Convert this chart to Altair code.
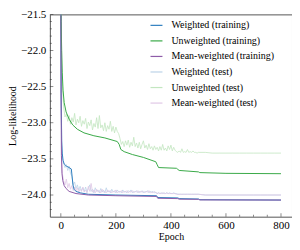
import altair as alt
import pandas as pd

FONT = "Liberation Serif"

SERIES = ["Weighted (training)", "Unweighted (training)", "Mean-weighted (training)",
          "Weighted (test)", "Unweighted (test)", "Mean-weighted (test)"]
COLORS = ["#2e7ebf", "#3aaa48", "#8e5ca8", "#bcd3e8", "#c3e6c0", "#e0c8e6"]

# ---- training curves (key points) ----
W_TR_EPOCH = [0, 1, 3, 5, 8, 12, 20, 30, 38, 41, 44, 48, 55, 70, 100, 200, 348, 352, 425, 430, 500, 505, 800]
W_TR_VAL = [-21.3, -22.6, -23.25, -23.42, -23.52, -23.57, -23.60, -23.62, -23.64, -23.75, -23.86, -23.92,
            -23.95, -23.97, -23.99, -24.00, -24.01, -24.035, -24.04, -24.05, -24.055, -24.065, -24.07]

U_TR_EPOCH = [0, 1, 3, 5, 8, 12, 19, 30, 43, 60, 84, 120, 160, 205, 212, 218, 230, 260, 300, 345, 350, 355,
              420, 425, 430, 500, 505, 600, 800]
U_TR_VAL = [-21.2, -21.6, -22.0, -22.3, -22.55, -22.72, -22.85, -22.95, -23.03, -23.09, -23.14, -23.18,
            -23.21, -23.26, -23.30, -23.37, -23.40, -23.44, -23.48, -23.54, -23.58, -23.62,
            -23.63, -23.645, -23.66, -23.68, -23.69, -23.70, -23.705]

M_TR_EPOCH = [0, 1, 2, 4, 7, 12, 19, 30, 55, 100, 200, 348, 352, 425, 430, 500, 505, 800]
M_TR_VAL = [-21.2, -22.8, -23.45, -23.7, -23.8, -23.87, -23.91, -23.95, -23.98, -24.0, -24.01, -24.02,
            -24.045, -24.05, -24.058, -24.06, -24.068, -24.07]

# ---- test curves ----
TEST_EPOCH = [0, 3, 6] + list(range(10, 501, 5)) + list(range(525, 801, 25))

U_TE_VAL = [-21.4, -22.15, -22.5,
            -22.78, -22.92, -22.88, -22.98, -22.90, -23.02, -22.93, -22.99, -22.87, -23.03,
            -22.95, -23.00, -22.91, -23.05, -22.97, -23.02, -22.94, -23.08, -22.99, -23.04,
            -22.96, -23.10, -23.01, -23.06, -22.93, -23.08, -22.90, -23.07, -23.03, -23.11,
            -23.00, -23.12, -23.04, -23.09, -22.98, -23.12, -23.05, -23.14, -23.06, -23.12,
            -23.15, -23.22, -23.30, -23.26, -23.33, -23.25, -23.31, -23.24, -23.34, -23.27,
            -23.32, -23.20, -23.33, -23.28, -23.35, -23.27, -23.36, -23.30, -23.25, -23.35,
            -23.31, -23.37, -23.29, -23.36, -23.33, -23.38, -23.32, -23.37, -23.34, -23.39,
            -23.33, -23.38, -23.30, -23.38, -23.35, -23.39, -23.32, -23.37, -23.31, -23.39,
            -23.34, -23.38, -23.40, -23.41, -23.39, -23.41, -23.36, -23.41, -23.40, -23.41,
            -23.37, -23.41, -23.40, -23.41, -23.39, -23.41, -23.41, -23.42, -23.41,
            -23.41, -23.42, -23.42, -23.42, -23.42, -23.42, -23.42, -23.42, -23.42, -23.42, -23.42, -23.42]

W_TE_VAL = [-21.4, -23.3, -23.5,
            -23.56, -23.62, -23.58, -23.66, -23.60, -23.70, -23.74, -23.86, -23.82, -23.91,
            -23.86, -23.93, -23.88, -23.94, -23.90, -23.95, -23.89, -23.96, -23.91, -23.86,
            -23.95, -23.92, -23.97, -23.90, -23.95, -23.93, -23.97, -23.91, -23.96, -23.93,
            -23.97, -23.90, -23.96, -23.94, -23.97, -23.92, -23.96, -23.94, -23.97, -23.93,
            -23.96, -23.95, -23.97, -23.93, -23.96, -23.95, -23.97, -23.94, -23.96, -23.93,
            -23.97, -23.95, -23.96, -23.94, -23.97, -23.95, -23.96, -23.94, -23.97, -23.95,
            -23.96, -23.94, -23.97, -23.95, -23.96, -23.95, -23.97, -23.96, -23.98, -23.97,
            -23.98, -23.97, -23.98, -23.97, -23.98, -23.97, -23.98, -23.97, -23.98, -23.98,
            -23.97, -23.98, -23.98, -23.99, -23.99, -23.99, -23.99, -23.99, -23.99, -23.99,
            -23.99, -23.99, -23.99, -23.99, -23.99, -23.99, -23.99, -23.99, -23.99,
            -24.0, -24.0, -24.0, -24.0, -24.0, -24.0, -24.0, -24.0, -24.0, -24.0, -24.0, -24.0]

M_TE_VAL = [-21.4, -23.45, -23.72,
            -23.80, -23.86, -23.78, -23.90, -23.84, -23.92, -23.87, -23.94, -23.89, -23.95,
            -23.90, -23.96, -23.92, -23.95, -23.89, -23.96, -23.93, -23.97, -23.88, -23.95,
            -23.84, -23.96, -23.93, -23.97, -23.92, -23.96, -23.94, -23.97, -23.92, -23.96,
            -23.95, -23.97, -23.93, -23.96, -23.94, -23.97, -23.95, -23.96, -23.93, -23.97,
            -23.95, -23.96, -23.94, -23.97, -23.95, -23.96, -23.94, -23.97, -23.95, -23.96,
            -23.94, -23.97, -23.95, -23.96, -23.94, -23.97, -23.95, -23.96, -23.95, -23.97,
            -23.95, -23.96, -23.94, -23.97, -23.96, -23.97, -23.95, -23.97, -23.98, -23.97,
            -23.98, -23.98, -23.97, -23.98, -23.98, -23.97, -23.98, -23.98, -23.98, -23.98,
            -23.98, -23.98, -23.99, -23.99, -23.99, -23.99, -23.99, -23.99, -23.99, -23.99,
            -23.99, -23.99, -23.99, -23.99, -23.99, -23.99, -23.99, -23.99, -23.99,
            -24.0, -24.0, -24.0, -24.0, -24.0, -24.0, -24.0, -24.0, -24.0, -24.0, -24.0, -24.0]

# ---- axes ----
X_DOMAIN = [-40, 840]
Y_DOMAIN = [-24.3, -21.5]
X_MAJOR = [0, 200, 400, 600, 800]
X_MINOR = [50, 100, 150, 250, 300, 350, 450, 500, 550, 650, 700, 750]
Y_MAJOR = [-24.0, -23.5, -23.0, -22.5, -22.0, -21.5]
Y_MINOR = [-24.2, -24.1, -23.9, -23.8, -23.7, -23.6, -23.4, -23.3, -23.2, -23.1,
           -22.9, -22.8, -22.7, -22.6, -22.4, -22.3, -22.2, -22.1, -21.9, -21.8, -21.7, -21.6]

W, H = 243, 203


def frame(name, ep, val):
    return pd.DataFrame({"epoch": ep, "value": val, "series": name})


train = pd.concat([frame(SERIES[0], W_TR_EPOCH, W_TR_VAL),
                   frame(SERIES[1], U_TR_EPOCH, U_TR_VAL),
                   frame(SERIES[2], M_TR_EPOCH, M_TR_VAL)])
test = pd.concat([frame(SERIES[3], TEST_EPOCH, W_TE_VAL),
                  frame(SERIES[4], TEST_EPOCH, U_TE_VAL),
                  frame(SERIES[5], TEST_EPOCH, M_TE_VAL)])

xs = alt.Scale(domain=X_DOMAIN, nice=False, zero=False)
ys = alt.Scale(domain=Y_DOMAIN, nice=False, zero=False)
cs = alt.Scale(domain=SERIES, range=COLORS)

x_enc = alt.X("epoch:Q", scale=xs, title="Epoch",
              axis=alt.Axis(values=X_MAJOR, format="d", labelPadding=3, titlePadding=1))
y_enc = alt.Y("value:Q", scale=ys, title="Log-likelihood",
              axis=alt.Axis(values=Y_MAJOR, format=".1f", labelPadding=4, titlePadding=3))

legend = alt.Legend(title=None, orient="none", legendX=100, legendY=4, symbolType="stroke",
                    symbolSize=144, symbolStrokeWidth=1.2, labelFont=FONT, labelFontSize=10,
                    labelColor="black", rowPadding=3.6, labelOffset=8, padding=0)

test_layer = alt.Chart(test).mark_line(strokeWidth=0.8, clip=True).encode(
    x=x_enc, y=y_enc,
    color=alt.Color("series:N", scale=cs, legend=legend),
    detail="series:N",
)
train_layer = alt.Chart(train).mark_line(strokeWidth=1.0, clip=True).encode(
    x=alt.X("epoch:Q", scale=xs),
    y=alt.Y("value:Q", scale=ys),
    color=alt.Color("series:N", scale=cs, legend=legend),
    detail="series:N",
)


def xticks(vals, L):
    return alt.Chart(pd.DataFrame({"epoch": vals})).mark_tick(
        size=L, thickness=0.8, color="#333", orient="vertical").encode(
        x=alt.X("epoch:Q", scale=xs), y=alt.value(H - L / 2))


def yticks(vals, L):
    return alt.Chart(pd.DataFrame({"value": vals})).mark_tick(
        size=L, thickness=0.8, color="#333", orient="horizontal").encode(
        y=alt.Y("value:Q", scale=ys), x=alt.value(L / 2))


chart = alt.layer(
    test_layer, train_layer,
    xticks(X_MAJOR, 3.5), xticks(X_MINOR, 2),
    yticks(Y_MAJOR, 3.5), yticks(Y_MINOR, 2),
).properties(
    width=W, height=H,
    autosize=alt.AutoSizeParams(type="none"),
    padding={"left": 42, "top": 6, "right": 0, "bottom": 25},
).configure_view(
    stroke="#555", strokeWidth=1,
).configure_axis(
    labelFont=FONT, labelFontSize=11, labelColor="black",
    titleFont=FONT, titleFontSize=10, titleFontWeight="normal", titleColor="black",
    grid=False, ticks=False, domain=False,
)

chart.save("out.html", embed_options={"renderer": "svg", "actions": False})
